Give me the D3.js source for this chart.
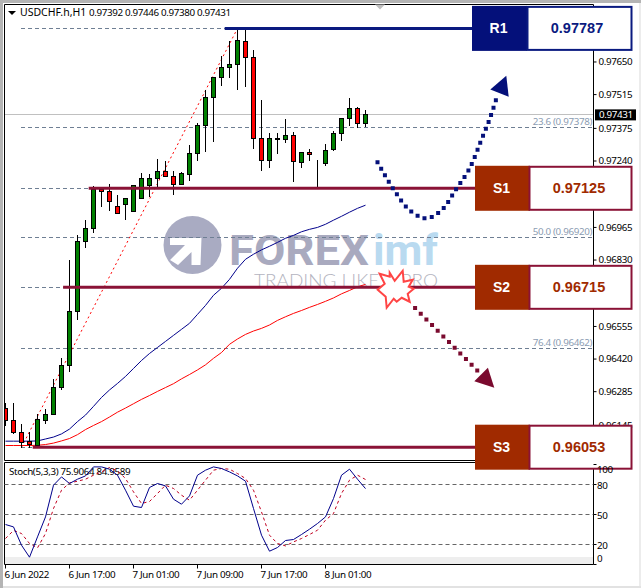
<!DOCTYPE html>
<html><head><meta charset="utf-8">
<script src="https://cdn.jsdelivr.net/npm/d3@7"></script>
<style>html,body{margin:0;padding:0;background:#fff;overflow:hidden}svg{display:block}text{font-family:"Noto Sans",sans-serif}.sm{font-size:9.8px;letter-spacing:-.35px}</style>
</head><body>
<script>
const symbolTitle = "USDCHF.h,H1";
const ohlcTitle = "0.97392 0.97446 0.97380 0.97431";
const stochTitle = "Stoch(5,3,3) 75.9064 84.9589";
const lastPrice = 0.97431;
const opens  = [.96215,.96162,.96113,.96078,.96060,.96165,.96187,.96299,.96390,.96614,.96904,.96958,.97121,.97111,.97048,.97058,.97027,.97081,.97135,.97164,.97194,.97174,.97139,.97184,.97271,.97383,.97501,.97584,.97624,.97638,.97733,.97667,.97331,.97240,.97327,.97325,.97344,.97232,.97273,.97228,.97226,.97284,.97350,.97414,.97456,.97392];
const highs  = [.96234,.96234,.96147,.96114,.96188,.96209,.96333,.96421,.96827,.96930,.96993,.97131,.97129,.97142,.97096,.97068,.97099,.97187,.97183,.97244,.97237,.97196,.97190,.97303,.97393,.97531,.97584,.97672,.97732,.97780,.97780,.97697,.97490,.97352,.97352,.97411,.97356,.97273,.97286,.97241,.97308,.97361,.97414,.97497,.97460,.97446];
const lows   = [.96143,.96110,.96053,.96052,.96060,.96152,.96187,.96291,.96368,.96583,.96879,.96944,.97051,.97031,.97048,.96997,.97027,.97081,.97093,.97126,.97172,.97100,.97139,.97158,.97238,.97276,.97317,.97552,.97582,.97534,.97545,.97290,.97197,.97209,.97271,.97313,.97155,.97209,.97238,.97131,.97218,.97280,.97321,.97386,.97377,.97380];
const closes = [.96162,.96113,.96071,.96063,.96168,.96187,.96299,.96390,.96614,.96904,.96958,.97121,.97110,.97070,.97019,.97082,.97136,.97167,.97164,.97194,.97172,.97139,.97186,.97271,.97385,.97501,.97584,.97625,.97638,.97737,.97667,.97331,.97240,.97331,.97331,.97344,.97236,.97273,.97263,.97228,.97281,.97352,.97414,.97456,.97392,.97431];
const maBlue = [.96078,.96078,.96078,.96078,.96079,.96087,.96095,.96108,.96128,.96159,.96186,.96222,.96259,.96290,.96317,.96346,.96379,.96412,.96441,.96466,.96491,.96516,.96541,.96566,.96603,.96640,.96682,.96711,.96748,.96794,.96831,.96852,.96870,.96885,.96901,.96918,.96930,.96945,.96955,.96963,.96976,.96993,.97009,.97026,.97042,.97055];
const maRed  = [.96060,.96060,.96060,.96060,.96061,.96064,.96070,.96079,.96089,.96105,.96126,.96143,.96159,.96178,.96198,.96215,.96233,.96251,.96267,.96284,.96300,.96316,.96336,.96354,.96373,.96394,.96421,.96445,.96479,.96501,.96520,.96534,.96545,.96559,.96578,.96593,.96607,.96619,.96632,.96644,.96657,.96671,.96688,.96702,.96717,.96727];
const stochMain = [40,37.6,19.3,7.3,27.6,47.6,79.3,87.6,81,85.3,88.6,97.6,97.6,95.3,89.3,74.3,58.3,57,77,81,78.6,65.3,60.3,68.6,89.3,94.3,97.6,96,92.6,88.6,83.3,56,29.3,13.3,17,24,25,30,35.3,41,47.6,66,89.3,95.3,85.3,75.9];
const stochSignal = [26,34,31,21,16.6,31,56,74.3,81.6,83.3,85.3,89.3,92.6,97,93.6,86,72.6,61,63,71,79.3,76,69.3,64.3,74.3,84.3,94.3,96,95.3,91,86,74.3,52.6,29.3,21,18.6,22.6,26,30,34.3,44.3,51,71,84.3,89.3,85];
const priceTicks = [.97650,.97515,.97375,.97240,.96965,.96830,.96555,.96420,.96285,.96145];
const stochTicks = [100,80,50,20,0];
const stochLevels = [80,50,20];
const timeIdx = [0,8,16,24,32,40];
const timeLabels = ["6 Jun 2022","6 Jun 17:00","7 Jun 01:00","7 Jun 09:00","7 Jun 17:00","8 Jun 01:00"];
const fibLevels = [.97787,.97378,.97125,.96920,.96715,.96462,.96053];
const fibLabels = [["23.6",.97378],["50.0",.96920],["76.4",.96462]];
const fibTrend = [[2,.96053],[29,.97787]];
const zones = [
 {name:"R1",value:.97787,start:27.4,kind:"r"},
 {name:"S1",value:.97125,start:10.4,kind:"s"},
 {name:"S2",value:.96715,start:7.2,kind:"s"},
 {name:"S3",value:.96053,start:3.4,kind:"s"}];
const upCurve = [[46.5,.97233],[48.5,.97121],[50.3,.97041],[51.9,.97005],[52.9,.97002],[54.6,.97037],[56.3,.97120],[58,.97207],[59.5,.97327],[60.6,.97419],[61.5,.97511]];
const upHead = [[62.6,.97591],[60.6,.97534],[62.9,.97504]];
const downLine = [[51.2,.96629],[59,.96370]];
const downHead = [[60.3,.96382],[58.6,.96326],[61.1,.96299]];
const burstAt = [48.9,.96709];
const burstShape = [[-17,-15],[-7,-12],[-7,-16],[-2,-8],[6,-18],[7,-7],[16,-9],[12,-2],[17,0],[11,5],[13,13],[5,9],[0,13],[-3,10],[-10,19],[-11,8],[-19,1],[-12,-5]];

const W=641,H=588;
const L=4.5,R=593.5,T=4.5,MB=460.5,ST=462.5,SB=564.5;
const x=d3.scaleLinear().domain([0,1]).range([5.5,13.5]);
const y=d3.scaleLinear().domain([.96000,.97888]).range([460,4]);
const ys=d3.scaleLinear().domain([0,100]).range([SB,SB-100]);
const crisp=v=>Math.round(v-.5)+.5;
const svg=d3.select("body").append("svg").attr("width",W).attr("height",H);
svg.append("rect").attr("width",W).attr("height",H).attr("fill","#fff");
svg.append("defs").append("clipPath").attr("id","main").append("rect").attr("x",L).attr("y",T).attr("width",R-L).attr("height",MB-T);

// window frame
svg.append("rect").attr("x",0).attr("y",0).attr("width",W).attr("height",3).attr("fill","#b4b4b4");
svg.append("rect").attr("x",0).attr("y",0).attr("width",3).attr("height",H).attr("fill","#b4b4b4");
svg.append("rect").attr("x",W-2).attr("y",3).attr("width",2).attr("height",H-3).attr("fill","#ececec");
svg.append("rect").attr("x",3).attr("y",H-2).attr("width",W-3).attr("height",2).attr("fill","#e2e2e2");

// watermark
const wm=svg.append("g");
wm.append("circle").attr("cx",192.5).attr("cy",245).attr("r",29).attr("fill","#a9abc2");
wm.append("polygon").attr("fill","#fff").attr("points",[[170,238],[201.5,238],[200.5,265],[191.5,265],[191.5,252],[178,265],[170,260],[185,245],[170,245]].join(" "));
wm.append("text").attr("x",229).attr("y",265).attr("font-size",43).attr("font-weight",700).attr("fill","#a9aabf").attr("textLength",140).attr("lengthAdjust","spacingAndGlyphs").style("font-family","Roboto").text("FOREX");
wm.append("text").attr("x",373).attr("y",265).attr("font-size",43).attr("font-weight",700).attr("fill","#b9daf0").attr("textLength",65).attr("lengthAdjust","spacingAndGlyphs").style("font-family","Roboto").text("imf");
wm.append("text").attr("x",254).attr("y",287).attr("font-size",18).attr("font-weight",300).attr("fill","#b4b4c0").attr("textLength",184).attr("lengthAdjust","spacingAndGlyphs").style("font-family","Lato").text("TRADING LIKE A PRO");

// bid line
svg.append("line").attr("x1",L).attr("x2",R).attr("y1",crisp(y(lastPrice))).attr("y2",crisp(y(lastPrice))).attr("stroke","#c0c0c0");

// fibo levels
const plot=svg.append("g").attr("clip-path","url(#main)");
plot.selectAll("line.fib").data(fibLevels).join("line").attr("class","fib")
 .attr("x1",21).attr("x2",R-1).attr("y1",d=>crisp(y(d))).attr("y2",d=>crisp(y(d)))
 .attr("stroke","#6f7f94").attr("stroke-dasharray","4,3");
svg.selectAll("text.fibl").data(fibLabels).join("text").attr("class","fibl sm")
 .attr("x",592).attr("y",d=>crisp(y(d[1]))-3).attr("text-anchor","end").attr("fill","#8c9db3")
 .text(d=>`${d[0]} (${d[1].toFixed(5)})`);

// fib trend
plot.append("line").attr("x1",x(fibTrend[0][0])).attr("y1",y(fibTrend[0][1])).attr("x2",x(fibTrend[1][0])).attr("y2",y(fibTrend[1][1]))
 .attr("stroke","#f00").attr("stroke-dasharray","2,3");

// moving averages
const lineI=(arr,sy)=>d3.line().x((d,i)=>x(i)).y(d=>sy(d))(arr);
plot.append("path").attr("d",lineI(maBlue,y)).attr("fill","none").attr("stroke","#00008b");
plot.append("path").attr("d",lineI(maRed,y)).attr("fill","none").attr("stroke","#f00");

// candles
const candles=opens.map((o,i)=>({i,o,h:highs[i],l:lows[i],c:closes[i]}));
const cg=plot.selectAll("g.c").data(candles).join("g").attr("class","c");
cg.append("line").attr("x1",d=>x(d.i)).attr("x2",d=>x(d.i)).attr("y1",d=>crisp(y(d.h))-.5).attr("y2",d=>crisp(y(d.l))+.5).attr("stroke","#000");
cg.append("rect").attr("x",d=>x(d.i)-2).attr("width",4)
 .attr("y",d=>crisp(y(Math.max(d.o,d.c))))
 .attr("height",d=>Math.max(0,crisp(y(Math.min(d.o,d.c)))-crisp(y(Math.max(d.o,d.c)))))
 .attr("fill",d=>d.c>=d.o?"#008000":"#f00").attr("stroke","#000");

// main frame & axes
const frame=svg.append("g").attr("fill","none").attr("stroke","#000");
frame.append("path").attr("d",`M${L},${MB}V${T}H${R}`);
frame.append("line").attr("x1",L).attr("x2",R).attr("y1",MB).attr("y2",MB);
frame.append("line").attr("x1",R).attr("x2",R).attr("y1",T).attr("y2",SB);
frame.append("line").attr("x1",L).attr("x2",R).attr("y1",ST).attr("y2",ST);
frame.append("line").attr("x1",L).attr("x2",L).attr("y1",ST).attr("y2",SB);

const styleAxis=g=>{g.select(".domain").remove();g.selectAll("text").attr("fill","#000").attr("class","sm");g.selectAll("line").attr("stroke","#000");};
svg.append("g").attr("transform",`translate(${R},0)`).call(d3.axisRight(y).tickValues(priceTicks).tickFormat(d3.format(".5f")).tickSize(3).tickPadding(2)).call(styleAxis);

// last price tag
svg.append("rect").attr("x",595).attr("y",y(lastPrice)-5).attr("width",41).attr("height",11).attr("fill","#000");
svg.append("text").attr("class","sm").attr("x",599).attr("y",y(lastPrice)+4).attr("fill","#fff").text(lastPrice.toFixed(5));

// header
svg.append("path").attr("d","M8,11H16L12,15Z").attr("fill","#000");
svg.append("text").attr("x",20).attr("y",16).attr("font-size",10.5).attr("fill","#000").text(symbolTitle);
svg.append("text").attr("class","sm").attr("x",89).attr("y",16).attr("fill","#000").text(ohlcTitle);
svg.append("path").attr("d","M375,4.5H385L380,9.5Z").attr("fill","#c0c0c0");

// zones
const zoneColor=k=>k==="r"?{line:"#0a1a80",fill:"#04107a",border:"#0a1a80",text:"#0a1a80"}:{line:"#8a1236",fill:"#a02a00",border:"#8a1236",text:"#a02a00"};
const BH=22.5;
const zg=svg.selectAll("g.z").data(zones).join("g").attr("class","z");
zg.append("line").attr("x1",d=>x(d.start)).attr("x2",d=>d.kind==="r"?472:483).attr("y1",d=>y(d.value)).attr("y2",d=>y(d.value))
 .attr("stroke",d=>zoneColor(d.kind).line).attr("stroke-width",3);
zg.append("rect").attr("x",d=>d.kind==="r"?472:475).attr("y",d=>y(d.value)-BH).attr("width",55).attr("height",2*BH)
 .attr("fill",d=>zoneColor(d.kind).fill);
zg.append("rect").attr("x",d=>d.kind==="r"?527.5:529.5).attr("y",d=>y(d.value)-BH+1).attr("width",d=>d.kind==="r"?104:102).attr("height",2*BH-2)
 .attr("fill","#fff").attr("stroke",d=>zoneColor(d.kind).border).attr("stroke-width",2);
zg.append("text").attr("x",d=>d.kind==="r"?498.5:501.5).attr("y",d=>y(d.value)+5).attr("text-anchor","middle").attr("fill","#fff").attr("font-size",14).attr("font-weight",700).style("font-family","Liberation Sans").text(d=>d.name);
zg.append("text").attr("x",d=>d.kind==="r"?577:579).attr("y",d=>y(d.value)+5).attr("text-anchor","middle").attr("fill",d=>zoneColor(d.kind).text).attr("font-size",14.5).attr("font-weight",700).style("font-family","Liberation Sans").text(d=>d.value.toFixed(5));

// scenario arrows
const pt=d=>[x(d[0]),y(d[1])];
svg.append("path").attr("d",d3.line().curve(d3.curveCatmullRom)(upCurve.map(pt))).attr("fill","none").attr("stroke","#04107a").attr("stroke-width",4).attr("stroke-linecap","square").attr("stroke-dasharray","0,7.5");
svg.append("polygon").attr("points",upHead.map(pt).join(" ")).attr("fill","#04107a");
svg.append("path").attr("d",d3.line()(downLine.map(pt))).attr("fill","none").attr("stroke","#7a0a2e").attr("stroke-width",4).attr("stroke-linecap","square").attr("stroke-dasharray","0,8");
svg.append("polygon").attr("points",downHead.map(pt).join(" ")).attr("fill","#7a0a2e");
const [bx,by]=pt(burstAt);
svg.append("polygon").attr("points",burstShape.map(p=>[bx+p[0],by+p[1]]).join(" ")).attr("fill","#fff").attr("stroke","#ff4545").attr("stroke-width",2);

// stochastic panel
svg.append("rect").attr("x",L+.5).attr("y",557).attr("width",R-L-1).attr("height",SB-557).attr("fill","#eeeeee");
svg.selectAll("line.lv").data(stochLevels).join("line").attr("class","lv").attr("x1",L).attr("x2",R).attr("y1",d=>ys(d)).attr("y2",d=>ys(d)).attr("stroke","#666").attr("stroke-dasharray","4,3");
svg.append("text").attr("class","sm").attr("x",9).attr("y",475).attr("fill","#000").text(stochTitle);
svg.append("path").attr("d",lineI(stochSignal,ys)).attr("fill","none").attr("stroke","#c00020").attr("stroke-dasharray","3,3");
svg.append("path").attr("d",lineI(stochMain,ys)).attr("fill","none").attr("stroke","#00008b");
svg.selectAll("text.st").data(stochTicks).join("text").attr("class","st sm").attr("x",597)
 .attr("y",d=>d===100?473:d===0?562:ys(d)+4).attr("fill","#000").text(d=>d);
svg.append("line").attr("x1",L).attr("x2",R).attr("y1",SB).attr("y2",SB).attr("stroke","#000");
svg.selectAll("line.t").data(stochTicks).join("line").attr("class","t").attr("x1",R).attr("x2",R+3).attr("y1",d=>ys(d)).attr("y2",d=>ys(d)).attr("stroke","#000");

// time axis
svg.selectAll("line.tt").data(timeIdx).join("line").attr("class","tt").attr("x1",d=>x(d)).attr("x2",d=>x(d)).attr("y1",SB).attr("y2",SB+4).attr("stroke","#000");
svg.selectAll("text.tl").data(timeIdx).join("text").attr("class","tl sm").attr("x",d=>x(d)-1).attr("y",578).attr("fill","#000").text((d,i)=>timeLabels[i]);
</script>
</body></html>
